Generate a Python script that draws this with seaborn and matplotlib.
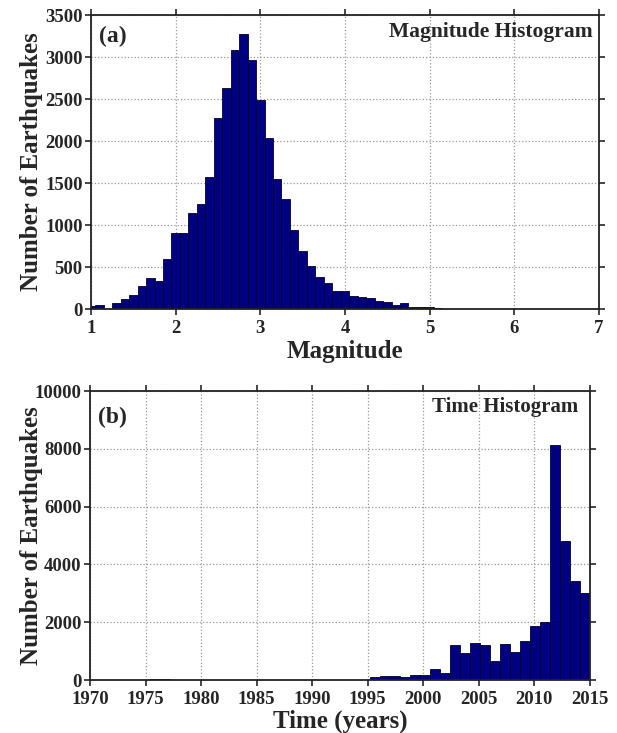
import matplotlib
matplotlib.use("Agg")
import matplotlib.pyplot as plt
import numpy as np
import pandas as pd
import seaborn as sns

# magnitude histogram, bins of 0.1 centred on 1.0, 1.1, ... 7.0
mag_centers = np.round(np.arange(1.0, 7.01, 0.1), 1)
mag_counts = [40, 45, 0, 70, 120, 165, 280, 365, 330, 600,
              905, 905, 1145, 1255, 1570, 2280, 2635, 3080, 3270, 2970,
              2495, 2035, 1545, 1310, 945, 690, 510, 385, 305, 220,
              220, 155, 143, 127, 100, 80, 48, 76, 28, 20,
              28, 12, 6, 5, 5, 4, 3, 2, 1, 1,
              1, 0, 0, 0, 0, 0, 0, 0, 0, 0, 0]

# time histogram, 50 bins between 1970 and 2015
time_edges = np.linspace(1970, 2015, 51)
time_counts = [0, 0, 0, 0, 0, 0, 25, 20, 5, 0,
               0, 0, 0, 0, 0, 10, 10, 0, 10, 0,
               8, 0, 5, 0, 10, 0, 0, 15, 90, 130,
               150, 120, 160, 170, 370, 235, 1200, 930, 1290, 1200,
               665, 1245, 965, 1335, 1885, 2000, 8120, 4830, 3430, 3025]

mag_df = pd.DataFrame({'mag': mag_centers, 'n': mag_counts})
time_df = pd.DataFrame({'year': (time_edges[:-1] + time_edges[1:]) / 2, 'n': time_counts})
mag_edges = [round(0.95 + 0.1 * i, 2) for i in range(len(mag_counts) + 1)]

sns.set_style("ticks")
plt.rcParams['font.family'] = ['Liberation Serif', 'DejaVu Serif']
plt.rcParams['font.weight'] = 'bold'

fig = plt.figure(figsize=(6.17, 7.33), dpi=100)
ax1 = fig.add_axes([0.1475, 0.5784, 0.8233, 0.401])
ax2 = fig.add_axes([0.1459, 0.0723, 0.810, 0.394])

bar_kw = dict(color='#000080', edgecolor='#000030', linewidth=0.6, alpha=1)

sns.histplot(data=mag_df, x='mag', weights='n', bins=mag_edges, ax=ax1, **bar_kw)
sns.histplot(data=time_df, x='year', weights='n', bins=list(time_edges), ax=ax2, **bar_kw)

ax1.set_xlim(1, 7)
ax1.set_ylim(0, 3500)
ax1.set_xticks(range(1, 8))
ax1.set_yticks(range(0, 3501, 500))
ax1.set_xlabel("Magnitude", fontsize=18, fontweight='bold', labelpad=2)
ax1.set_ylabel("Number of Earthquakes", fontsize=18, fontweight='bold')
ax1.text(0.015, 0.965, "(a)", transform=ax1.transAxes, fontsize=17,
         fontweight='bold', va='top', ha='left')
ax1.text(0.988, 0.975, "Magnitude Histogram", transform=ax1.transAxes,
         fontsize=15.5, fontweight='bold', va='top', ha='right')

ax2.set_xlim(1970, 2015)
ax2.set_ylim(0, 10000)
ax2.set_xticks(range(1970, 2016, 5))
ax2.set_yticks(range(0, 10001, 2000))
ax2.set_xlabel("Time (years)", fontsize=18, fontweight='bold', labelpad=1)
ax2.set_ylabel("Number of Earthquakes", fontsize=18, fontweight='bold')
ax2.text(0.015, 0.945, "(b)", transform=ax2.transAxes, fontsize=17,
         fontweight='bold', va='top', ha='left')
ax2.text(0.976, 0.98, "Time Histogram", transform=ax2.transAxes,
         fontsize=15, fontweight='bold', va='top', ha='right')

for ax in (ax1, ax2):
    ax.grid(True, linestyle=':', color='#999999', linewidth=0.9)
    ax.set_axisbelow(True)
    ax.tick_params(direction='out', length=4, width=1.2, labelsize=13.5,
                   top=True, right=True, labeltop=False, labelright=False, pad=2)
    ax.tick_params(axis='x', pad=4)
    ax.yaxis.set_label_coords(-0.094, 0.5)
    for s in ax.spines.values():
        s.set_linewidth(1.3)
        s.set_color('#222222')
    for lab in ax.get_xticklabels() + ax.get_yticklabels():
        lab.set_fontweight('bold')

fig.savefig("out.png", dpi=100)
